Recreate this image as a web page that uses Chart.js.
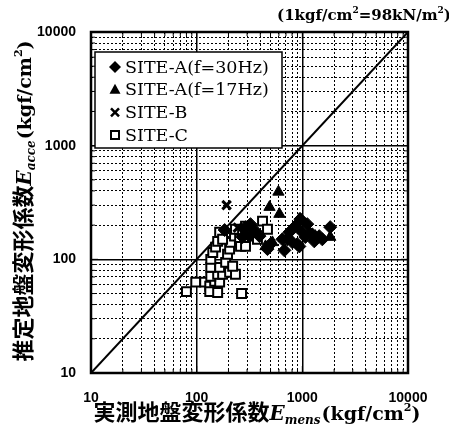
<!DOCTYPE html>
<html>
<head>
<meta charset="utf-8">
<style>html,body{margin:0;padding:0;background:#fff}</style>
<script src="https://cdn.jsdelivr.net/npm/chart.js@4/dist/chart.umd.min.js"></script>
</head>
<body>
<canvas id="c" width="449" height="438"></canvas>
<script>
// axis decades (kgf/cm2)
let decades = [10, 100, 1000, 10000]

// SITE-A f=30Hz (diamonds)
let siteA30_x = [184, 290, 323, 360, 393, 499, 468, 676, 647, 753, 859, 958, 1000, 1067, 937, 1242, 1446, 1836, 805, 272, 316, 1114, 897, 721, 1545, 1297]
let siteA30_y = [181, 192, 204, 177, 160, 136, 123, 120, 150, 173, 196, 226, 173, 157, 130, 166, 160, 192, 141, 157, 160, 204, 136, 150, 150, 144]
// SITE-A f=17Hz (triangles)
let siteA17_x = [594, 489, 607, 521, 448, 937, 1836, 316, 1327, 1166]
let siteA17_y = [392, 288, 250, 141, 130, 226, 157, 192, 160, 173]
// SITE-B (crosses)
let siteB_x = [192, 245]
let siteB_y = [300, 190]
// SITE-C (open squares)
let siteC_x = [80, 98, 119, 133, 133, 158, 148, 165, 136, 158, 176, 205, 233, 136, 165, 188, 219, 136, 142, 151, 158, 196, 205, 209, 228, 233, 255, 272, 290, 260, 290, 360, 376, 420, 468, 165, 176, 266]
let siteC_y = [52, 63, 63, 58, 52, 51, 64, 63, 71, 74, 74, 77, 74, 85, 85, 94, 87, 100, 115, 128, 144, 111, 123, 141, 160, 184, 150, 173, 196, 130, 130, 160, 150, 217, 184, 173, 150, 50]

let legendLabels = ['SITE-A(f=30Hz)', 'SITE-A(f=17Hz)', 'SITE-B', 'SITE-C']

function pts(xs, ys) { return xs.map((x, i) => ({x: x, y: ys[i]})) }
function isMajor(v) { let l = Math.log10(v); return Math.abs(l - Math.round(l)) < 1e-9 }

// every 1..9 step in each decade
let tickVals = []
for (let d = 0; d < decades.length - 1; d++) {
  for (let m = 1; m < 10; m++) tickVals.push(decades[d] * m)
}
tickVals.push(decades[decades.length - 1])

// draw text made of pieces with different fonts
function segWidth(ctx, segs) {
  let w = 0
  segs.forEach(s => { ctx.font = s.f; w += ctx.measureText(s.t).width + (s.dx || 0) })
  return w
}
function drawSegs(ctx, segs, cx, y) {
  let x = cx - segWidth(ctx, segs) / 2
  ctx.textAlign = 'left'
  ctx.textBaseline = 'alphabetic'
  segs.forEach(s => {
    ctx.font = s.f
    x += (s.dx || 0)
    ctx.fillText(s.t, x, y + (s.dy || 0))
    x += ctx.measureText(s.t).width
  })
}

const jp = "bold 22px 'Noto Sans CJK JP'"
const ser = "bold 19px 'DejaVu Serif'"
function titleSegs(jpText, sub) {
  return [
    {t: jpText, f: jp},
    {t: 'E', f: "italic bold 20px 'DejaVu Serif'"},
    {t: sub, f: "italic bold 12px 'DejaVu Serif'", dy: 4},
    {t: '(kgf/cm', f: ser, dx: 1},
    {t: '2', f: "bold 11px 'DejaVu Serif'", dy: -9},
    {t: ')', f: ser}
  ]
}

function marker(ctx, kind, x, y) {
  ctx.save()
  ctx.fillStyle = '#000'; ctx.strokeStyle = '#000'
  ctx.beginPath()
  if (kind == 0) {
    ctx.moveTo(x, y - 6); ctx.lineTo(x + 6, y); ctx.lineTo(x, y + 6); ctx.lineTo(x - 6, y); ctx.closePath(); ctx.fill()
  } else if (kind == 1) {
    ctx.moveTo(x, y - 6); ctx.lineTo(x + 5.5, y + 4); ctx.lineTo(x - 5.5, y + 4); ctx.closePath(); ctx.fill()
  } else if (kind == 2) {
    ctx.lineWidth = 2.5
    ctx.moveTo(x - 4, y - 4); ctx.lineTo(x + 4, y + 4); ctx.moveTo(x + 4, y - 4); ctx.lineTo(x - 4, y + 4); ctx.stroke()
  } else {
    ctx.lineWidth = 2; ctx.fillStyle = '#fff'
    ctx.rect(x - 4, y - 4, 8, 8); ctx.fill(); ctx.stroke()
  }
  ctx.restore()
}

const decor = {
  id: 'decor',
  afterDatasetsDraw(chart) {
    const ctx = chart.ctx, a = chart.chartArea
    const xs = chart.scales.x, ys = chart.scales.y
    ctx.save()
    ctx.strokeStyle = '#000'; ctx.fillStyle = '#000'
    // inward tick marks
    ctx.lineWidth = 1
    ctx.beginPath()
    tickVals.forEach(v => {
      let L = isMajor(v) ? 7 : 4
      let px = xs.getPixelForValue(v), py = ys.getPixelForValue(v)
      ctx.moveTo(px, a.bottom); ctx.lineTo(px, a.bottom - L)
      ctx.moveTo(px, a.top); ctx.lineTo(px, a.top + L)
      ctx.moveTo(a.left, py); ctx.lineTo(a.left + L, py)
      ctx.moveTo(a.right, py); ctx.lineTo(a.right - L, py)
    })
    ctx.stroke()
    // frame
    ctx.lineWidth = 2.5
    ctx.strokeRect(a.left, a.top, a.right - a.left, a.bottom - a.top)
    // legend
    ctx.fillStyle = '#fff'
    ctx.fillRect(95, 52, 187, 96)
    ctx.lineWidth = 1.5
    ctx.strokeRect(95, 52, 187, 96)
    legendLabels.forEach((lab, i) => {
      let y = 67 + i * 22.7
      marker(ctx, i, 115, y)
      ctx.fillStyle = '#000'
      ctx.font = "17.5px 'DejaVu Serif'"
      ctx.textAlign = 'left'
      ctx.textBaseline = 'middle'
      ctx.fillText(lab, 125, y + 1)
    })
    // axis titles
    ctx.fillStyle = '#000'
    drawSegs(ctx, titleSegs('実測地盤変形係数', 'mens'), 257, 420)
    ctx.save()
    ctx.translate(31, 201)
    ctx.rotate(-Math.PI / 2)
    drawSegs(ctx, titleSegs('推定地盤変形係数', 'acce'), 0, 0)
    ctx.restore()
    // unit note
    const nf = "bold 15px 'DejaVu Serif'", sf = "bold 9px 'DejaVu Serif'"
    drawSegs(ctx, [
      {t: '(1kgf/cm', f: nf}, {t: '2', f: sf, dy: -7},
      {t: '=98kN/m', f: nf}, {t: '2', f: sf, dy: -7}, {t: ')', f: nf}
    ], 364, 20)
    ctx.restore()
  }
}

function axis(fit) {
  return {
    type: 'logarithmic',
    min: decades[0],
    max: decades[decades.length - 1],
    afterBuildTicks: s => { s.ticks = tickVals.map(v => ({value: v})) },
    afterFit: fit,
    ticks: {
      autoSkip: false,
      maxRotation: 0,
      color: '#000',
      font: {family: "'Liberation Sans'", size: 14, weight: 'bold'},
      callback: v => isMajor(v) ? String(Math.round(v)) : ''
    },
    grid: {
      color: '#000',
      lineWidth: c => (c.tick && isMajor(c.tick.value)) ? 1.5 : 1,
      drawTicks: false
    },
    border: {display: false, dash: c => (c.tick && !isMajor(c.tick.value)) ? [2, 2] : []}
  }
}

const xAxis = axis(s => { s.height = 65 })
xAxis.ticks.padding = 17
const yAxis = axis(s => { s.width = 91 })
yAxis.ticks.padding = 15

new Chart(document.getElementById('c'), {
  type: 'scatter',
  data: {
    datasets: [
      {
        label: '1:1',
        data: [{x: decades[0], y: decades[0]}, {x: decades[3], y: decades[3]}],
        showLine: true, borderColor: '#000', borderWidth: 2, pointRadius: 0, order: 5
      },
      {
        label: legendLabels[3], data: pts(siteC_x, siteC_y),
        pointStyle: 'rect', radius: 6.3, backgroundColor: '#fff', borderColor: '#000', borderWidth: 2, order: 4
      },
      {
        label: legendLabels[2], data: pts(siteB_x, siteB_y),
        pointStyle: 'crossRot', radius: 6, borderColor: '#000', borderWidth: 3, order: 3
      },
      {
        label: legendLabels[1], data: pts(siteA17_x, siteA17_y),
        pointStyle: 'triangle', radius: 6.5, backgroundColor: '#000', borderColor: '#000', borderWidth: 1, order: 2
      },
      {
        label: legendLabels[0], data: pts(siteA30_x, siteA30_y),
        pointStyle: 'rectRot', radius: 6.5, backgroundColor: '#000', borderColor: '#000', borderWidth: 1, order: 1
      }
    ]
  },
  options: {
    responsive: false,
    animation: false,
    layout: {padding: {top: 32, right: 41, left: 0, bottom: 0}},
    plugins: {legend: {display: false}, tooltip: {enabled: false}},
    scales: {x: xAxis, y: yAxis}
  },
  plugins: [decor]
})
</script>
</body>
</html>
